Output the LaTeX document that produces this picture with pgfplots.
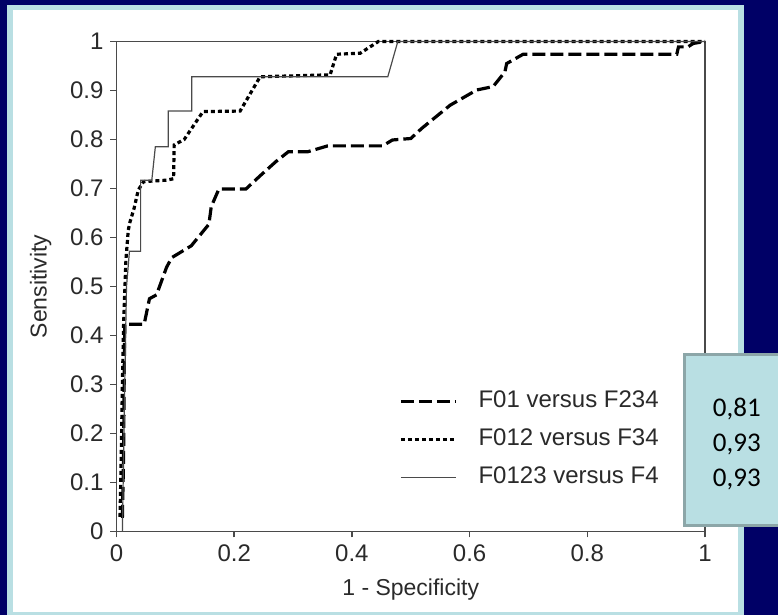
\documentclass[border=0pt]{standalone}
\usepackage{fontspec}
\setmainfont{Liberation Sans}
\newfontfamily\boxfont{Carlito}
\usepackage{pgfplots}
\pgfplotsset{compat=1.18}

\definecolor{navy}{HTML}{000066}
\definecolor{panelcyan}{HTML}{B9DFE3}
\definecolor{boxedge}{HTML}{8CA6A8}
\definecolor{axisgray}{HTML}{4A4A4A}
\definecolor{labelgray}{HTML}{2A2A2A}

\begin{document}
\begin{tikzpicture}
% slide backdrop (1 unit = 1 px of the reference)
\begin{scope}[x=0.5pt,y=0.5pt]
  \fill[navy] (0,0) rectangle (778,615);
  \fill[panelcyan] (7,0) rectangle (744,610);
  \fill[white] (13,3) rectangle (738,605);
\end{scope}

\begin{axis}[
  at={(58.25pt,41.75pt)}, anchor=south west,
  scale only axis, width=294.25pt, height=245pt,
  xmin=0, xmax=1, ymin=0, ymax=1,
  clip=false,
  xtick={0,0.2,0.4,0.6,0.8,1},
  ytick={0,0.1,0.2,0.3,0.4,0.5,0.6,0.7,0.8,0.9,1},
  tick pos=left, tick align=outside,
  major tick length=3pt,
  axis line style={axisgray, line width=0.8pt},
  tick style={axisgray, line width=0.8pt},
  /pgf/number format/assume math mode=true,
  ticklabel style={font=\fontsize{12}{14}\selectfont, text=labelgray},
  xlabel={1 - Specificity},
  ylabel={Sensitivity},
  label style={font=\fontsize{11.5}{13}\selectfont, text=labelgray},
  xlabel style={at={(axis description cs:0.5,-0.118)}, anchor=center},
  ylabel style={at={(axis description cs:-0.129,0.5)}, anchor=center},
  legend cell align=left,
  legend image code/.code={\draw[#1] (0pt,0pt) -- (27.5pt,0pt);},
  legend style={draw=none, fill=none, at={(axis cs:0.48,0.188)}, anchor=west,
    inner sep=0pt, row sep=7pt, column sep=10.5pt,
    font=\fontsize{12}{14}\selectfont, text=labelgray,
    nodes={inner sep=0pt, text height=9pt, text depth=3pt}},
]
\addplot[black, line width=1.6pt, dash pattern=on 6.5pt off 2.5pt] coordinates {
  (0.010,0.028) (0.012,0.15) (0.013,0.30) (0.014,0.423) (0.047,0.423)
  (0.056,0.475) (0.068,0.483) (0.085,0.539) (0.094,0.559) (0.127,0.583)
  (0.157,0.627) (0.161,0.663) (0.174,0.699) (0.220,0.699) (0.245,0.727)
  (0.271,0.755) (0.292,0.775) (0.325,0.775) (0.359,0.787) (0.452,0.787)
  (0.469,0.799) (0.500,0.802) (0.519,0.823) (0.567,0.870) (0.612,0.901)
  (0.640,0.908) (0.660,0.938) (0.663,0.955) (0.691,0.974) (0.952,0.974)
  (0.955,0.989) (0.971,0.989) (0.980,0.996) (1,1)
};
\addlegendentry{F01 versus F234}
\addplot[black, line width=1.6pt, dash pattern=on 2pt off 1.5pt] coordinates {
  (0.006,0.03) (0.008,0.15) (0.010,0.30) (0.012,0.42) (0.016,0.554)
  (0.020,0.615) (0.023,0.632) (0.030,0.66) (0.037,0.697) (0.046,0.714)
  (0.085,0.717) (0.097,0.72) (0.098,0.789) (0.115,0.80) (0.147,0.857)
  (0.210,0.858) (0.244,0.928) (0.363,0.932) (0.374,0.974) (0.414,0.976)
  (0.445,1.0) (1,1)
};
\addlegendentry{F012 versus F34}
\addplot[axisgray, line width=0.6pt] coordinates {
  (0.010,0.0) (0.014,0.3) (0.017,0.5) (0.022,0.572) (0.041,0.572)
  (0.041,0.717) (0.060,0.717) (0.066,0.785) (0.088,0.785) (0.088,0.858)
  (0.128,0.858) (0.128,0.928) (0.461,0.928) (0.478,1) (1,1)
};
\addlegendentry{F0123 versus F4}
\end{axis}

% AUC box laid over the chart
\begin{scope}[x=0.5pt,y=0.5pt]
  \filldraw[fill=panelcyan, draw=boxedge, line width=1.5pt] (684.5,89.5) rectangle (820,260.5);
  \begin{scope}[every node/.style={anchor=base west, inner sep=0pt,
      font=\boxfont\fontsize{13.5}{16}\selectfont, text=black}]
    \node at (712.5,198.3) {0,81};
    \node at (712.5,163.3) {0,93};
    \node at (712.5,128.3) {0,93};
  \end{scope}
\end{scope}
\pgfresetboundingbox
\useasboundingbox (0,0) rectangle (389pt,307.5pt);
\end{tikzpicture}
\end{document}
